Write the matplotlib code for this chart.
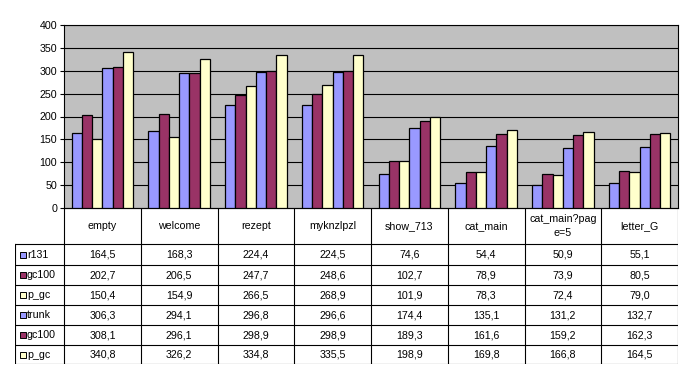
import numpy as np
import matplotlib.pyplot as plt

categories = ["empty", "welcome", "rezept", "myknzlpzl", "show_713",
              "cat_main", "cat_main?pag\ne=5", "letter_G"]
series_names = ["r131", "gc100", "p_gc", "trunk", "gc100", "p_gc"]
r131 = [164.5, 168.3, 224.4, 224.5, 74.6, 54.4, 50.9, 55.1]
gc100_a = [202.7, 206.5, 247.7, 248.6, 102.7, 78.9, 73.9, 80.5]
p_gc_a = [150.4, 154.9, 266.5, 268.9, 101.9, 78.3, 72.4, 79.0]
trunk = [306.3, 294.1, 296.8, 296.6, 174.4, 135.1, 131.2, 132.7]
gc100_b = [308.1, 296.1, 298.9, 298.9, 189.3, 161.6, 159.2, 162.3]
p_gc_b = [340.8, 326.2, 334.8, 335.5, 198.9, 169.8, 166.8, 164.5]
values = [r131, gc100_a, p_gc_a, trunk, gc100_b, p_gc_b]
colors = ["#9999FF", "#993366", "#FFFFCC", "#9999FF", "#993366", "#FFFFCC"]

W, H = 693, 380
plt.rcParams["font.family"] = ["Liberation Sans", "DejaVu Sans"]
fs = 7.7

fig = plt.figure(figsize=(W / 100, H / 100), dpi=100)

# bar area (pixel layout)
left, right, top, bottom = 64, 678, 25, 208
ax = fig.add_axes([left / W, 1 - bottom / H, (right - left) / W, (bottom - top) / H])
n_cat = len(categories)
n_ser = len(values)
bw = 1 / (n_ser + 1.5)
x0 = np.arange(n_cat) + 0.75 * bw
for j, (vals, c) in enumerate(zip(values, colors)):
    ax.bar(x0 + j * bw, vals, width=bw, align="edge", color=c,
           edgecolor="black", linewidth=0.9, zorder=3)
ax.set_xlim(0, n_cat)
ax.set_ylim(0, 400)
ax.set_facecolor("#C0C0C0")
ax.set_yticks(np.arange(0, 401, 50))
ax.yaxis.grid(True, color="black", linewidth=0.8, zorder=1)
ax.set_xticks([])
ax.tick_params(axis="y", direction="out", length=3, width=0.8, labelsize=fs, pad=2)
for s in ax.spines.values():
    s.set_linewidth(0.8)

# data table under the bars
tleft, tbottom = 15, 364
row_edges = [208, 244, 265, 285, 305, 325, 345, 364]
cat_w = (right - left) / n_cat
lab_w = (left - tleft) / cat_w
tx = fig.add_axes([tleft / W, 1 - tbottom / H, (right - tleft) / W, (tbottom - 208) / H])
tx.set_xlim(-lab_w, n_cat)
tx.set_ylim(tbottom, 208)
tx.axis("off")
lw = 0.8
tx.plot([0, n_cat], [row_edges[0]] * 2, color="black", lw=lw)
for y in row_edges[1:]:
    tx.plot([-lab_w, n_cat], [y, y], color="black", lw=lw)
for i in range(n_cat + 1):
    tx.plot([i, i], [row_edges[0], row_edges[-1]], color="black", lw=lw)
tx.plot([-lab_w, -lab_w], [row_edges[1], row_edges[-1]], color="black", lw=lw)

for i, cat in enumerate(categories):
    ym = (row_edges[0] + row_edges[1]) / 2
    tx.text(i + 0.5, ym, cat, ha="center", va="center", fontsize=fs, linespacing=1.5)
for j, (name, vals, c) in enumerate(zip(series_names, values, colors)):
    ym = (row_edges[j + 1] + row_edges[j + 2]) / 2
    tx.add_patch(plt.Rectangle((-lab_w + 5 / cat_w, ym + 3), 6 / cat_w, -6,
                               facecolor=c, edgecolor="black", lw=0.7))
    tx.text(-lab_w + 12 / cat_w, ym, name, ha="left", va="center", fontsize=fs)
    for i, v in enumerate(vals):
        tx.text(i + 0.5, ym, f"{v:.1f}".replace(".", ","), ha="center",
                va="center", fontsize=fs)

fig.savefig("out.png", dpi=100)
